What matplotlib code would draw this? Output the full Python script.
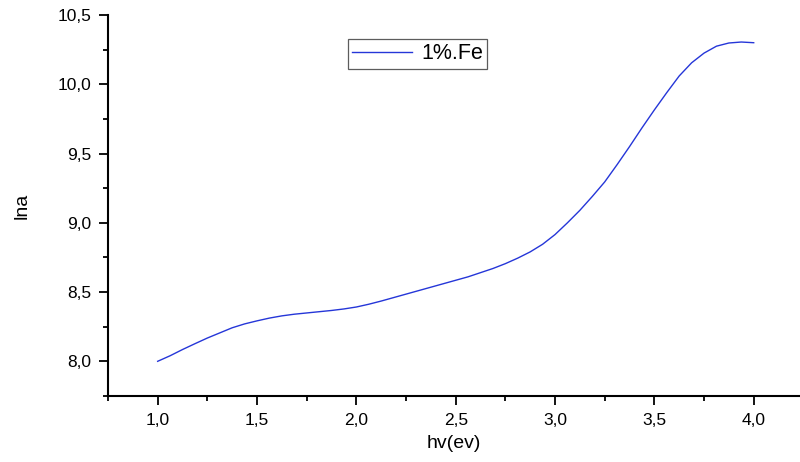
import matplotlib
matplotlib.use("Agg")
import matplotlib.pyplot as plt
from matplotlib.ticker import MultipleLocator, FuncFormatter

plt.rcParams['font.family'] = ['Liberation Sans', 'DejaVu Sans']

# Photon energy (eV) and ln(alpha) for the 1% Fe-doped film
hv = [1.0, 1.0625, 1.125, 1.1875, 1.25, 1.3125, 1.375, 1.4375, 1.5, 1.5625,
      1.625, 1.6875, 1.75, 1.8125, 1.875, 1.9375, 2.0, 2.0625, 2.125, 2.1875,
      2.25, 2.3125, 2.375, 2.4375, 2.5, 2.5625, 2.625, 2.6875, 2.75, 2.8125,
      2.875, 2.9375, 3.0, 3.0625, 3.125, 3.1875, 3.25, 3.3125, 3.375, 3.4375,
      3.5, 3.5625, 3.625, 3.6875, 3.75, 3.8125, 3.875, 3.9375, 4.0]
ln_alpha = [8.000, 8.040, 8.085, 8.127, 8.168, 8.205, 8.242, 8.270, 8.292, 8.312,
            8.328, 8.340, 8.349, 8.358, 8.367, 8.378, 8.392, 8.412, 8.435, 8.460,
            8.485, 8.510, 8.535, 8.560, 8.585, 8.610, 8.640, 8.670, 8.705, 8.745,
            8.790, 8.845, 8.915, 9.000, 9.090, 9.190, 9.295, 9.420, 9.550, 9.685,
            9.815, 9.940, 10.060, 10.155, 10.225, 10.275, 10.298, 10.305, 10.300]
series_label = "1%.Fe"

fig = plt.figure(figsize=(8.0, 4.62), dpi=100)
ax = fig.add_axes([0.135, 0.143, 0.865, 0.8245])

ax.plot(hv, ln_alpha, color='#2536d8', lw=1.0, label=series_label,
        solid_joinstyle='round')

ax.set_xlim(0.75, 4.233)
ax.set_ylim(7.75, 10.5)

comma = FuncFormatter(lambda v, p: f"{v:.1f}".replace('.', ','))
ax.set_xticks([1.0, 1.5, 2.0, 2.5, 3.0, 3.5, 4.0])
ax.xaxis.set_minor_locator(MultipleLocator(0.25))
ax.yaxis.set_major_locator(MultipleLocator(0.5))
ax.yaxis.set_minor_locator(MultipleLocator(0.25))
ax.xaxis.set_major_formatter(comma)
ax.yaxis.set_major_formatter(comma)

for s in ['top', 'right']:
    ax.spines[s].set_visible(False)
for s in ['left', 'bottom']:
    ax.spines[s].set_linewidth(1.5)
    ax.spines[s].set_color('black')

ax.tick_params(which='major', direction='out', length=6.5, width=1.3,
               labelsize=12.5, pad=5.5, colors='black')
ax.tick_params(which='minor', direction='out', length=3.5, width=1.3)

ax.set_xlabel("hv(ev)", fontsize=14, labelpad=5)
ax.set_ylabel("lna", fontsize=14)
ax.yaxis.set_label_coords(-0.112, 0.5)

leg = ax.legend(loc='upper left', bbox_to_anchor=(348 / 800, 1 - 39 / 462),
                bbox_transform=fig.transFigure, fontsize=15.5, frameon=True,
                fancybox=False, handlelength=2.75, handletextpad=0.45,
                borderpad=0.2, borderaxespad=0)
leg.get_frame().set_edgecolor('#333333')
leg.get_frame().set_linewidth(0.9)

fig.savefig("out.png", dpi=100)
